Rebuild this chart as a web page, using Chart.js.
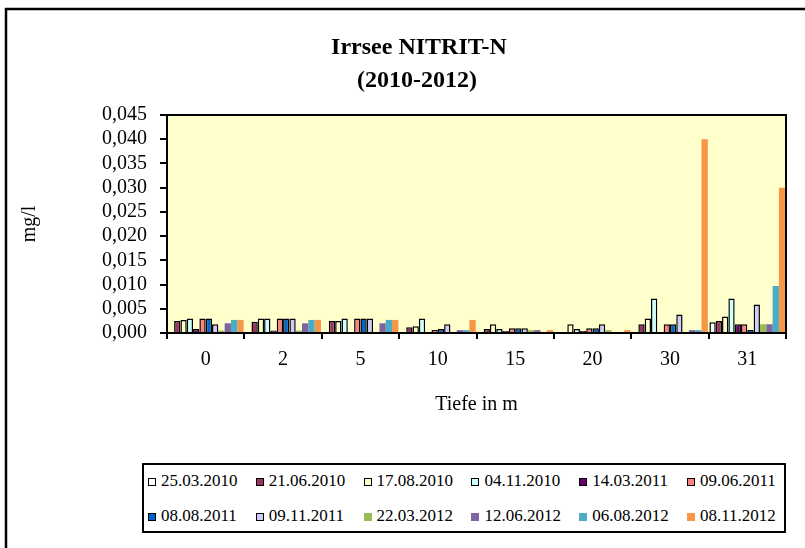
<!DOCTYPE html>
<html lang="de">
<head>
    <meta charset="UTF-8">
    <title>Irrsee NITRIT-N (2010-2012)</title>
    <script src="https://cdn.jsdelivr.net/npm/chart.js"></script>
    <style>
        body {
            margin: 0;
            background: #fff;
            font-family: "Liberation Serif", "Times New Roman", serif;
            overflow: hidden;
        }
        #wrap {
            position: relative;
            width: 805px;
            height: 548px;
        }
        #chart {
            position: absolute;
            left: 0;
            top: 0;
        }
        #legend {
            position: absolute;
            left: 142px;
            top: 463px;
            width: 640px;
            height: 66px;
            border: 2px solid #000;
            background: #fff;
        }
        .item {
            position: absolute;
            height: 20px;
            line-height: 20px;
            font-size: 17px;
            color: #000;
            white-space: nowrap;
        }
        .item span {
            display: inline-block;
            width: 8px;
            height: 8px;
            margin-right: 5px;
            vertical-align: 0px;
            box-sizing: border-box;
        }
    </style>
</head>
<body>
<div id="wrap">
    <canvas id="chart" width="805" height="548"></canvas>
    <div id="legend"></div>
</div>

<script>
    const depths = ['0', '2', '5', '10', '15', '20', '30', '31'];
    const dates = ['25.03.2010', '21.06.2010', '17.08.2010', '04.11.2010', '14.03.2011', '09.06.2011',
                   '08.08.2011', '09.11.2011', '22.03.2012', '12.06.2012', '06.08.2012', '08.11.2012'];
    const colors = ['#FFFFFF', '#993366', '#FFFFCC', '#CCFFFF', '#660066', '#FF8080',
                    '#0066CC', '#CCCCFF', '#9BBB59', '#8064A2', '#4BACC6', '#F79646'];
    const outlined = [true, true, true, true, true, true, true, true, false, false, false, false];

    // mg/l per sampling date, one value per depth
    const s25032010 = [0.0002, 0.0002, 0.0002, 0.0002, 0.0002, 0.0002, 0.0002, 0.0022];
    const s21062010 = [0.0025, 0.0023, 0.0025, 0.0012, 0.0008, 0.0002, 0.0018, 0.0025];
    const s17082010 = [0.0027, 0.0030, 0.0025, 0.0014, 0.0018, 0.0018, 0.0030, 0.0034];
    const s04112010 = [0.0030, 0.0030, 0.0030, 0.0030, 0.0008, 0.0008, 0.0071, 0.0071];
    const s14032011 = [0.0008, 0.0005, 0.0002, 0.0002, 0.0004, 0.0004, 0.0002, 0.0018];
    const s09062011 = [0.0030, 0.0030, 0.0030, 0.0006, 0.0010, 0.0010, 0.0018, 0.0018];
    const s08082011 = [0.0030, 0.0030, 0.0030, 0.0008, 0.0010, 0.0010, 0.0018, 0.0006];
    const s09112011 = [0.0018, 0.0030, 0.0030, 0.0018, 0.0010, 0.0018, 0.0038, 0.0059];
    const s22032012 = [0.0005, 0.0005, 0.0000, 0.0000, 0.0006, 0.0006, 0.0000, 0.0018];
    const s12062012 = [0.0020, 0.0020, 0.0020, 0.0006, 0.0006, 0.0002, 0.0006, 0.0018];
    const s06082012 = [0.0027, 0.0027, 0.0027, 0.0006, 0.0002, 0.0002, 0.0006, 0.0097];
    const s08112012 = [0.0027, 0.0027, 0.0027, 0.0027, 0.0006, 0.0006, 0.0400, 0.0300];

    const values = [s25032010, s21062010, s17082010, s04112010, s14032011, s09062011,
                    s08082011, s09112011, s22032012, s12062012, s06082012, s08112012];

    const yTicks = [0, 0.005, 0.01, 0.015, 0.02, 0.025, 0.03, 0.035, 0.04, 0.045];

    const serif = '"Liberation Serif", "Times New Roman", serif';

    const frame = {
        id: 'frame',
        beforeDraw(chart) {
            const ctx = chart.ctx;
            const a = chart.chartArea;
            ctx.save();
            ctx.fillStyle = '#fff';
            ctx.fillRect(0, 0, chart.width, chart.height);
            ctx.strokeStyle = '#000';
            ctx.lineWidth = 2.5;
            ctx.strokeRect(6, 9, 900, 700);
            ctx.fillStyle = '#FFFFCC';
            ctx.fillRect(a.left, a.top, a.right - a.left, a.bottom - a.top);
            // title
            ctx.fillStyle = '#000';
            ctx.font = 'bold 24px ' + serif;
            ctx.textAlign = 'center';
            ctx.textBaseline = 'middle';
            ctx.fillText('Irrsee NITRIT-N', 419, 48);
            ctx.fillText('(2010-2012)', 417, 81);
            ctx.restore();
        },
        afterDatasetsDraw(chart) {
            const ctx = chart.ctx;
            const a = chart.chartArea;
            ctx.save();
            ctx.strokeStyle = '#000';
            ctx.lineWidth = 2;
            ctx.strokeRect(a.left, a.top, a.right - a.left, a.bottom - a.top);
            ctx.restore();
        }
    };

    new Chart(document.getElementById('chart'), {
        type: 'bar',
        data: {
            labels: depths,
            datasets: dates.map((d, i) => ({
                label: d,
                data: values[i],
                backgroundColor: colors[i],
                borderColor: '#000',
                borderWidth: outlined[i] ? 1.5 : 0,
                categoryPercentage: 0.98,
                barPercentage: 1.0
            }))
        },
        options: {
            responsive: false,
            animation: false,
            layout: { padding: { left: 0, top: 115, right: 19, bottom: 0 } },
            plugins: {
                legend: { display: false },
                tooltip: { enabled: false }
            },
            scales: {
                x: {
                    afterFit: s => { s.height = 215; },
                    grid: { display: true, drawOnChartArea: false, offset: true, color: '#000', lineWidth: 2, tickLength: 6 },
                    border: { display: true, color: '#000', width: 2 },
                    ticks: { color: '#000', font: { family: serif, size: 20 }, padding: 9 },
                    title: { display: true, text: 'Tiefe in m', color: '#000', font: { family: serif, size: 20 }, padding: { top: 0, bottom: 131 } }
                },
                y: {
                    min: 0,
                    max: 0.045,
                    afterFit: s => { s.width = 167; },
                    afterBuildTicks: s => { s.ticks = yTicks.map(v => ({ value: v })); },
                    grid: { display: true, drawOnChartArea: false, color: '#000', lineWidth: 2, tickLength: 7 },
                    border: { display: true, color: '#000', width: 2 },
                    ticks: {
                        autoSkip: false,
                        color: '#000',
                        font: { family: serif, size: 20 },
                        padding: 13,
                        callback: v => v.toFixed(3).replace('.', ',')
                    },
                    title: { display: true, text: 'mg/l', color: '#000', font: { family: serif, size: 20 }, padding: { top: 18, bottom: 0 } }
                }
            }
        },
        plugins: [frame]
    });

    // legend, 6 columns x 2 rows
    const legend = document.getElementById('legend');
    dates.forEach((d, i) => {
        const el = document.createElement('div');
        el.className = 'item';
        el.style.left = (4 + (i % 6) * 107.8) + 'px';
        el.style.top = (6 + Math.floor(i / 6) * 35) + 'px';
        const box = document.createElement('span');
        box.style.background = colors[i];
        box.style.border = outlined[i] ? '1.5px solid #000' : 'none';
        el.appendChild(box);
        el.appendChild(document.createTextNode(d));
        legend.appendChild(el);
    });
</script>
</body>
</html>
